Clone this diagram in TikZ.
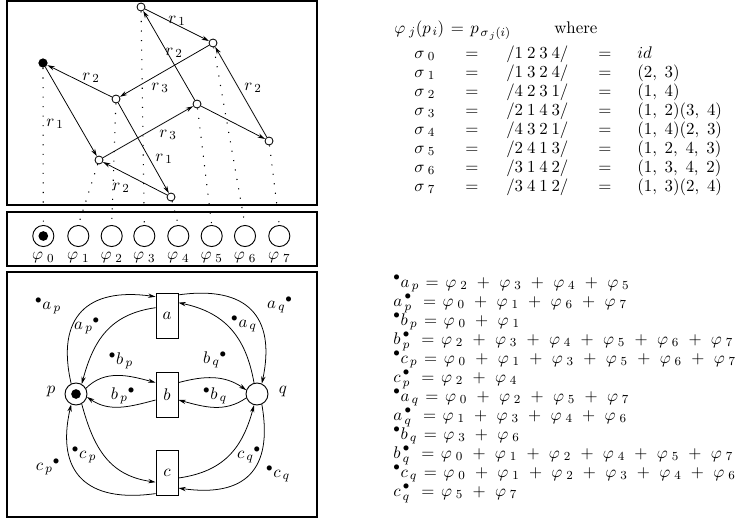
\documentclass[11pt,tikz,border=0pt]{standalone}
\usetikzlibrary{arrows.meta,calc}
\medmuskip=10mu plus 2mu minus 2mu
\thickmuskip=7mu plus 3mu
\newcommand\vph[1]{\varphi_{\kern2.5pt#1}}
\newcommand\eph[1]{\smash{\varphi}_{\smash{\kern2.5pt#1}}}
\newcommand\sgm[1]{\sigma_{\kern2.5pt#1}}
\newcommand\rr[1]{r_{\kern1.5pt#1}}
\newcommand\prs[2]{{}^{\bullet}#1_{\kern1.5pt#2}}
\newcommand\eprs[2]{{}^{\smash{\bullet}}\smash{#1}_{\smash{\kern1.5pt#2}}}
\newcommand\pst[2]{\smash{#1}_{\kern1.5pt\smash{#2}}^{\smash{\kern1.5pt\bullet}}\kern3pt}
\newcommand\lpst[2]{#1_{\kern1.5pt#2}{}^{\bullet}}
\newcommand\pmt[4]{/#1\hspace{2.5pt}#2\hspace{2.5pt}#3\hspace{2.5pt}#4/}
\newcommand\cm{,\kern3.2pt}
\begin{document}
\begin{tikzpicture}[x=0.65pt,y=-0.65pt,
  frame/.style={draw,line width=0.7pt},
  st/.style={circle,draw,line width=0.55pt,inner sep=0pt,minimum size=5.2pt,fill=white},
  stb/.style={circle,fill=black,inner sep=0pt,minimum size=6pt},
  arr/.style={-{Stealth[length=4.8pt,width=2.8pt]},line width=0.5pt},
  dotl/.style={line width=0.7pt,dash pattern=on 0.7pt off 5.5pt},
  place/.style={circle,draw,line width=0.6pt,inner sep=0pt,minimum size=13.7pt},
  tok/.style={circle,fill=black,inner sep=0pt,minimum size=6.3pt},
  trans/.style={rectangle,draw,line width=0.6pt,minimum width=14.3pt,minimum height=29.2pt,inner sep=0pt},
  lab/.style={inner sep=1pt},
  tx/.style={anchor=base west,inner sep=0pt},
]
\useasboundingbox (0,0) rectangle (735,522);
% frames
\draw[frame] (7,1) rectangle (317,205);
\draw[frame] (7,212) rectangle (317,266);
\draw[frame] (7,272) rectangle (317,517);

% top graph
\node[stb] (t0) at (43,63) {};
\node[st] (t1) at (99,160) {};
\node[st] (t2) at (116,99) {};
\node[st] (t3) at (141,7) {};
\node[st] (t4) at (171,197) {};
\node[st] (t5) at (197,104) {};
\node[st] (t6) at (213,43) {};
\node[st] (t7) at (269,141) {};

\draw[arr] (t3) -- (t6);
\draw[arr] (t5) -- (t3);
\draw[arr] (t6) -- (t2);
\draw[arr] (t2) -- (t0);
\draw[arr] (t0) -- (t1);
\draw[arr] (t1) -- (t5);
\draw[arr] (t2) -- (t4);
\draw[arr] (t4) -- (t1);
\draw[arr] (t5) -- (t7);
\draw[arr] (t7) -- (t6);

\node[lab] (r1a) at (177,21) {$\rr1$};
\node[lab] (r2a) at (174,53) {$\rr2$};
\node[lab] (r2b) at (91,78) {$\rr2$};
\node[lab] (r3a) at (160,88) {$\rr3$};
\node[lab] (r2c) at (253,88) {$\rr2$};
\node[lab] (r1b) at (55,124) {$\rr1$};
\node[lab] (r3b) at (168,135) {$\rr3$};
\node[lab] (r1c) at (164,159) {$\rr1$};
\node[lab] (r2d) at (121,188) {$\rr2$};

% middle row
\foreach \i/\x in {0/43.3,1/78.3,2/111.7,3/144.3,4/178.3,5/211.7,6/245,7/279.3}{
  \node[place] (m\i) at (\x,236) {};
  \node[lab] (ml\i) at (\x,258) {$\vph{\i}$};
}
\node[tok] (mt) at (m0) {};

\draw[dotl] (t0) -- (m0.north);
\draw[dotl] (t1) -- (m1.north);
\draw[dotl] (t2) -- (m2.north);
\draw[dotl] (t3) -- (m3.north);
\draw[dotl] (t4) -- (m4.north);
\draw[dotl] (t5) -- (m5.north);
\draw[dotl] (t6) -- (m6.north);
\draw[dotl] (t7) -- (m7.north);

% bottom net
\node[place,minimum size=14.3pt] (P) at (76,394) {};
\node[tok] (Pt) at (P) {};
\node[place,minimum size=14.3pt] (Q) at (257,394) {};
\node[trans] (A) at (167,315.5) {$a$};
\node[trans] (B) at (167,394.5) {$b$};
\node[trans] (C) at (167,472.5) {$c$};
\node[lab] (pl) at (51,392) {$p$};
\node[lab] (ql) at (283,392) {$q$};

\draw[arr] (P.115) to[out=103,in=172,looseness=1.45] ($(A.north west)!0.09!(A.south west)$);
\draw[arr] ($(A.north west)!0.33!(A.south west)$) to[out=188,in=75,looseness=1.1] (P.60);
\draw[arr] ($(A.north east)!0.05!(A.south east)$) to[out=8,in=78,looseness=1.45] (Q.65);
\draw[arr] (Q.105) to[out=100,in=-12,looseness=1.1] ($(A.north east)!0.22!(A.south east)$);
\draw[arr] (P.30) to[out=45,in=165] ($(B.north west)!0.24!(B.south west)$);
\draw[arr] ($(B.north west)!0.62!(B.south west)$) to[out=195,in=-35] (P.-15);
\draw[arr] ($(B.north east)!0.24!(B.south east)$) to[out=15,in=145] (Q.160);
\draw[arr] (Q.200) to[out=215,in=-15] ($(B.north east)!0.62!(B.south east)$);
\draw[arr] (P.-60) to[out=-75,in=172,looseness=1.1] ($(C.north west)!0.71!(C.south west)$);
\draw[arr] ($(C.north west)!0.96!(C.south west)$) to[out=188,in=-103,looseness=1.45] (P.-115);
\draw[arr] ($(C.north east)!0.62!(C.south east)$) to[out=8,in=-105,looseness=1.1] (Q.-105);
\draw[arr] (Q.-65) to[out=-80,in=-8,looseness=1.45] ($(C.north east)!0.84!(C.south east)$);

\node[lab] (lap1) at (48,306) {$\prs a p$};
\node[lab] (lap2) at (87,326) {$\lpst a p$};
\node[lab] (laq1) at (244,324) {$\prs a q$};
\node[lab] (laq2) at (280,305) {$\lpst a q$};
\node[lab] (lbp1) at (121,361) {$\prs b p$};
\node[lab] (lbp2) at (123,396) {$\lpst b p$};
\node[lab] (lbq2) at (215,360) {$\lpst b q$};
\node[lab] (lbq1) at (215,396) {$\prs b q$};
\node[lab] (lcp1) at (84,455) {$\prs c p$};
\node[lab] (lcp2) at (48,467) {$\lpst c p$};
\node[lab] (lcq2) at (249,455) {$\lpst c q$};
\node[lab] (lcq1) at (278,474) {$\prs c q$};

% right: permutations
\node[tx] (hd) at (394,33) {$\vph{j}(p_{\kern1pt i}) = p_{\kern1pt\sigma_{\kern1pt j}(i)}$};
\node[tx] (wh) at (554,33) {where};
\foreach \i/\pa/\cy in {0/1234/{$id$},1/1324/{$(2\cm 3)$},2/4231/{$(1\cm 4)$},3/2143/{$(1\cm 2)(3\cm 4)$},4/4321/{$(1\cm 4)(2\cm 3)$},5/2413/{$(1\cm 2\cm 4\cm 3)$},6/3142/{$(1\cm 3\cm 4\cm 2)$},7/3412/{$(1\cm 3)(2\cm 4)$}}{
  \node[tx] (s\i) at (414,{58+19*\i}) {$\sgm{\i}$};
  \node[tx] (e\i) at (465,{58+19*\i}) {$=$};
  \node[tx] (pm\i) at (506,{58+19*\i}) {\expandafter\pmt\pa};
  \node[tx] (f\i) at (598,{58+19*\i}) {$=$};
  \node[tx] (c\i) at (637,{58+19*\i}) {\cy};
}

% right: pre/post sets
\node[tx] (q0) at (393,287) {$\eprs a p = \eph2 + \eph3 + \eph4 + \eph5$};
\node[tx] (q1) at (393,306) {$\pst a p = \eph0 + \eph1 + \eph6 + \eph7$};
\node[tx] (q2) at (393,325) {$\eprs b p = \eph0 + \eph1$};
\node[tx] (q3) at (393,344) {$\pst b p = \eph2 + \eph3 + \eph4 + \eph5 + \eph6 + \eph7$};
\node[tx] (q4) at (393,363) {$\eprs c p = \eph0 + \eph1 + \eph3 + \eph5 + \eph6 + \eph7$};
\node[tx] (q5) at (393,382) {$\pst c p = \eph2 + \eph4$};
\node[tx] (q6) at (393,401) {$\eprs a q = \eph0 + \eph2 + \eph5 + \eph7$};
\node[tx] (q7) at (393,420) {$\pst a q = \eph1 + \eph3 + \eph4 + \eph6$};
\node[tx] (q8) at (393,439) {$\eprs b q = \eph3 + \eph6$};
\node[tx] (q9) at (393,458) {$\pst b q = \eph0 + \eph1 + \eph2 + \eph4 + \eph5 + \eph7$};
\node[tx] (q10) at (393,477) {$\eprs c q = \eph0 + \eph1 + \eph2 + \eph3 + \eph4 + \eph6$};
\node[tx] (q11) at (393,496) {$\pst c q = \eph5 + \eph7$};
\end{tikzpicture}
\end{document}
